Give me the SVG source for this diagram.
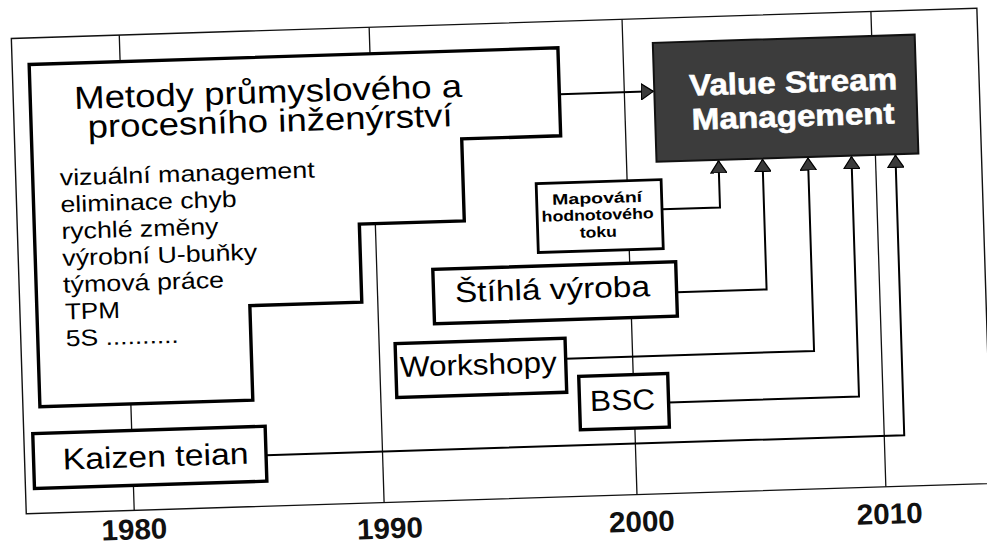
<svg xmlns="http://www.w3.org/2000/svg" width="987" height="549" viewBox="0 0 987 549">
<defs>
<style>
.frame{fill:none;stroke:#111;stroke-width:1.4}
.grid{fill:none;stroke:#111;stroke-width:1.3}
.box{fill:#fff;stroke:#000;stroke-width:3.4}
.vsm{fill:#3c3c3c;stroke:#111;stroke-width:2}
.conn{fill:none;stroke:#000;stroke-width:2}
.t{font-family:"Liberation Sans",Arial,sans-serif;fill:#000}
.title{font-size:32px}
.list{font-size:23px}
.mid{font-size:29px;text-anchor:middle}
.big{font-size:30px;text-anchor:middle}
.small{font-size:15px;font-weight:bold;text-anchor:middle}
.vt{font-family:"Liberation Sans",Arial,sans-serif;font-size:30px;font-weight:bold;fill:#fff;text-anchor:middle;stroke:#fff;stroke-width:0.6}
.yr{font-family:"Liberation Sans",Arial,sans-serif;font-weight:bold;font-size:29px;text-anchor:middle;fill:#111}
</style>
<marker id="ah" viewBox="0 0 13 17" refX="12.5" refY="8.5" markerWidth="13" markerHeight="17" markerUnits="userSpaceOnUse" orient="auto">
<path d="M0.5,0.5 L12.5,8.5 L0.5,16.5 Z" fill="#3a3a3a" stroke="#000" stroke-width="1.2"/>
</marker>
</defs>
<rect width="987" height="549" fill="#fff"/>
<g transform="rotate(-1.8 493 275)">
  <g id="frame">
    <rect class="frame" x="19" y="23.5" width="966" height="475.5"/>
  </g>
  <g id="gridlines">
    <line class="grid" x1="127" y1="23.5" x2="127" y2="499"/>
    <line class="grid" x1="377" y1="23.5" x2="377" y2="499"/>
    <line class="grid" x1="630" y1="23.5" x2="630" y2="499"/>
    <line class="grid" x1="879" y1="23.5" x2="879" y2="499"/>
  </g>
  <g id="connectors">
    <path class="conn" d="M565.5,96.5 H659" marker-end="url(#ah)"/>
    <path class="conn" d="M664,214.7 H722 V168" marker-end="url(#ah)"/>
    <path class="conn" d="M676,298 H766 V168" marker-end="url(#ah)"/>
    <path class="conn" d="M563,361 H811.5 V168" marker-end="url(#ah)"/>
    <path class="conn" d="M664.5,408 H855 V168" marker-end="url(#ah)"/>
    <path class="conn" d="M260.5,448 H899 V168" marker-end="url(#ah)"/>
  </g>
  <g id="metody">
    <path class="box" d="M36,50 H565 V138 H466 V220 H361 V298 H249 V392.5 H36 Z"/>
    <text class="t title" x="80" y="96" textLength="388" lengthAdjust="spacingAndGlyphs">Metody průmyslového a</text>
    <text class="t title" x="92.5" y="125" textLength="365" lengthAdjust="spacingAndGlyphs">procesního inženýrství</text>
    <text class="t list" x="63" y="172" textLength="255" lengthAdjust="spacingAndGlyphs">vizuální management</text>
    <text class="t list" x="63" y="198.8" textLength="176" lengthAdjust="spacingAndGlyphs">eliminace chyb</text>
    <text class="t list" x="63" y="225.6" textLength="157" lengthAdjust="spacingAndGlyphs">rychlé změny</text>
    <text class="t list" x="63" y="252.4" textLength="195" lengthAdjust="spacingAndGlyphs">výrobní U-buňky</text>
    <text class="t list" x="63" y="279.2" textLength="161" lengthAdjust="spacingAndGlyphs">týmová práce</text>
    <text class="t list" x="64" y="306" textLength="55" lengthAdjust="spacingAndGlyphs">TPM</text>
    <text class="t list" x="64" y="332.8" textLength="113" lengthAdjust="spacingAndGlyphs">5S ..........</text>
  </g>
  <g id="vsm">
    <rect class="vsm" x="660" y="48" width="262" height="119"/>
    <text class="vt" x="799" y="102" textLength="208" lengthAdjust="spacingAndGlyphs">Value Stream</text>
    <text class="vt" x="798" y="136" textLength="203" lengthAdjust="spacingAndGlyphs">Management</text>
  </g>
  <g id="mapovani">
    <rect class="box" x="539" y="185" width="125" height="69" style="stroke-width:2.8"/>
    <text class="t small" x="599.5" y="206.6" textLength="90" lengthAdjust="spacingAndGlyphs">Mapování</text>
    <text class="t small" x="599.5" y="223.3" textLength="112" lengthAdjust="spacingAndGlyphs">hodnotového</text>
    <text class="t small" x="599.5" y="240.6" textLength="37" lengthAdjust="spacingAndGlyphs">toku</text>
  </g>
  <g id="stihla">
    <rect class="box" x="433" y="267.5" width="243" height="54.5"/>
    <text class="t mid" x="552" y="301" textLength="195" lengthAdjust="spacingAndGlyphs">Štíhlá výroba</text>
  </g>
  <g id="workshopy">
    <rect class="box" x="393" y="340.5" width="170" height="54"/>
    <text class="t mid" x="475.5" y="374" textLength="157" lengthAdjust="spacingAndGlyphs">Workshopy</text>
  </g>
  <g id="bsc">
    <rect class="box" x="575.5" y="379" width="89" height="53.5"/>
    <text class="t mid" x="618.5" y="414" textLength="65" lengthAdjust="spacingAndGlyphs">BSC</text>
  </g>
  <g id="kaizen">
    <rect class="box" x="28" y="419" width="232.5" height="55"/>
    <text class="t big" x="150" y="456" textLength="186" lengthAdjust="spacingAndGlyphs">Kaizen teian</text>
  </g>
  <g id="years">
    <text class="yr" x="126.5" y="528" textLength="66" lengthAdjust="spacingAndGlyphs">1980</text>
    <text class="yr" x="382" y="535" textLength="66" lengthAdjust="spacingAndGlyphs">1990</text>
    <text class="yr" x="634" y="536" textLength="66" lengthAdjust="spacingAndGlyphs">2000</text>
    <text class="yr" x="882" y="536" textLength="66" lengthAdjust="spacingAndGlyphs">2010</text>
  </g>
</g>
</svg>
